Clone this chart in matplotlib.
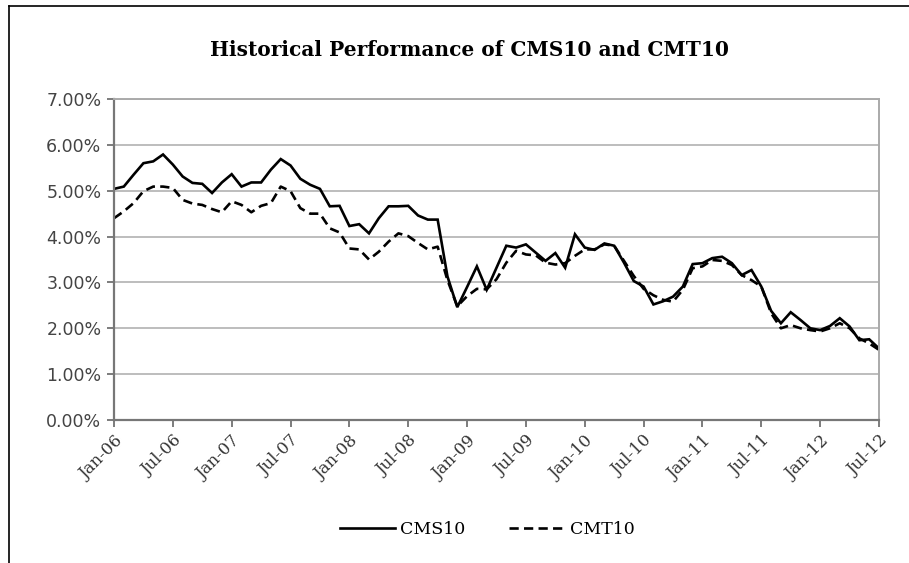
import numpy as np
import matplotlib
matplotlib.use("Agg")
import matplotlib.pyplot as plt
from matplotlib.lines import Line2D
from matplotlib.ticker import FuncFormatter

# Monthly data, Jan-06 .. Jul-12 (percent)
cms10 = [
    5.04, 5.09, 5.35, 5.60, 5.64, 5.79, 5.57, 5.31, 5.17, 5.15, 4.95, 5.18,  # 2006
    5.36, 5.09, 5.18, 5.18, 5.46, 5.69, 5.55, 5.26, 5.13, 5.04, 4.66, 4.67,  # 2007
    4.23, 4.27, 4.07, 4.40, 4.66, 4.66, 4.67, 4.46, 4.37, 4.37, 3.13, 2.46,  # 2008
    2.90, 3.35, 2.84, 3.32, 3.80, 3.76, 3.83, 3.65, 3.47, 3.64, 3.32, 4.05,  # 2009
    3.76, 3.71, 3.85, 3.80, 3.43, 3.03, 2.91, 2.52, 2.59, 2.69, 2.91, 3.40,  # 2010
    3.42, 3.53, 3.56, 3.42, 3.16, 3.27, 2.91, 2.38, 2.11, 2.35, 2.18, 2.00,  # 2011
    1.96, 2.05, 2.22, 2.04, 1.74, 1.76, 1.56,                                # 2012
]
cmt10 = [
    4.40, 4.55, 4.73, 4.99, 5.09, 5.09, 5.06, 4.80, 4.72, 4.69, 4.60, 4.53,
    4.77, 4.69, 4.53, 4.67, 4.73, 5.09, 4.99, 4.62, 4.50, 4.50, 4.18, 4.09,
    3.74, 3.72, 3.50, 3.67, 3.89, 4.07, 4.01, 3.86, 3.72, 3.78, 3.05, 2.48,
    2.70, 2.86, 2.85, 3.07, 3.43, 3.69, 3.61, 3.59, 3.43, 3.39, 3.42, 3.58,
    3.72, 3.72, 3.83, 3.80, 3.47, 3.14, 2.86, 2.72, 2.62, 2.58, 2.84, 3.31,
    3.35, 3.49, 3.47, 3.38, 3.16, 3.05, 2.91, 2.33, 2.00, 2.07, 2.00, 1.96,
    1.93, 2.00, 2.11, 2.00, 1.78, 1.67, 1.53,
]
tick_labels = ["Jan-06", "Jul-06", "Jan-07", "Jul-07", "Jan-08", "Jul-08", "Jan-09",
               "Jul-09", "Jan-10", "Jul-10", "Jan-11", "Jul-11", "Jan-12", "Jul-12"]
y_ticks = [0, 1, 2, 3, 4, 5, 6, 7]

months = np.arange(len(cms10))

fig = plt.figure(figsize=(9.09, 5.63), dpi=100)
ax = fig.add_axes([114 / 909, 1 - 420 / 563, 765 / 909, 321 / 563])

ax.plot(months, cms10, color="black", lw=1.9, solid_joinstyle="miter", label="CMS10")
ax.plot(months, cmt10, color="black", lw=1.9, linestyle=(0, (3.5, 2)), label="CMT10")

ax.set_xlim(0, len(cms10) - 1)
ax.set_ylim(0, 7)
ax.set_yticks(y_ticks)
ax.yaxis.set_major_formatter(FuncFormatter(lambda v, p: f"{v:.2f}%"))
ax.set_xticks(months[::6])
ax.set_xticklabels(tick_labels, rotation=45, ha="right", rotation_mode="anchor",
                   family="DejaVu Serif", fontsize=12, color="#333333")
for lbl in ax.get_yticklabels():
    lbl.set_fontsize(12.5)
    lbl.set_color("#444444")
ax.tick_params(axis="x", length=5, width=1.2, color="#666666", pad=4)
ax.tick_params(axis="y", length=5, width=1.2, color="#666666", pad=4)

ax.grid(axis="y", color="#bdbdbd", lw=1.4)
ax.set_axisbelow(True)
for side in ["left", "bottom"]:
    ax.spines[side].set_color("#777777")
    ax.spines[side].set_linewidth(1.6)
for side in ["top", "right"]:
    ax.spines[side].set_color("#aaaaaa")
    ax.spines[side].set_linewidth(1.4)

fig.text(469 / 909, 1 - 50 / 563, "Historical Performance of CMS10 and CMT10",
         ha="center", va="center", family="DejaVu Serif", fontweight="bold", fontsize=14.5)

leg = fig.legend(loc="center", bbox_to_anchor=(487 / 909, 1 - 530 / 563), ncol=2,
                 frameon=False, handlelength=3.2, columnspacing=2.5, handletextpad=0.3,
                 prop={"family": "DejaVu Serif", "size": 12.5})

# outer frame (top and left only)
fig.add_artist(Line2D([9 / 909, 1], [1 - 6 / 563, 1 - 6 / 563], color="black", lw=1.2))
fig.add_artist(Line2D([9 / 909, 9 / 909], [0, 1 - 6 / 563], color="black", lw=1.2))

fig.savefig("out.png", dpi=100)
